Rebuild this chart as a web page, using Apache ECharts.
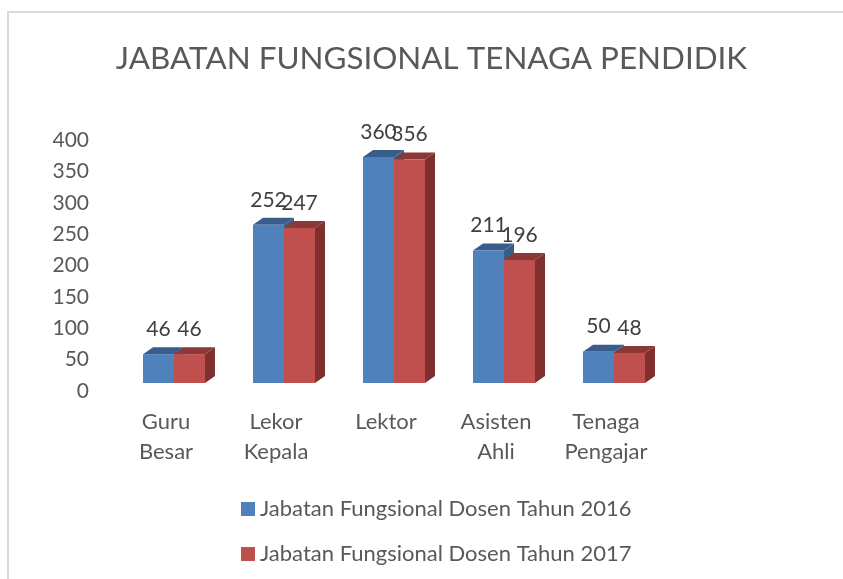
<!DOCTYPE html>
<html>
<head>
	<meta charset="utf-8">
	<title>Jabatan Fungsional Tenaga Pendidik</title>
	<style>body { margin: 0; background: #fff; }</style>
</head>
<body>
<div id="container" style="width: 843px;height: 579px;"></div>
<script src="https://cdn.jsdelivr.net/npm/echarts@6/dist/echarts.min.js"></script>
<script type="text/javascript">
    var categories = ['Guru\nBesar', 'Lekor\nKepala', 'Lektor', 'Asisten\nAhli', 'Tenaga\nPengajar'];
    var values2016 = [46, 252, 360, 211, 50];
    var values2017 = [46, 247, 356, 196, 48];
    var name2016 = 'Jabatan Fungsional Dosen Tahun 2016';
    var name2017 = 'Jabatan Fungsional Dosen Tahun 2017';

    var myChart = echarts.init(document.getElementById('container'));
    var textColor = '#595959';
    var fontName = 'Lato';

    // fake 3D column: front, top and side faces
    function bar3d(front, top, side, barIndex) {
        return function (params, api) {
            var barW = 31, depthX = 10, depthY = 7, floorLift = 8;
            var base = api.coord([api.value(0), 0]);
            var head = api.coord([api.value(0), api.value(1)]);
            var x0 = base[0] + 8 - barW + barIndex * barW;
            var x1 = x0 + barW;
            var y0 = base[1] - floorLift;
            var y1 = head[1] - floorLift;
            return {
                type: 'group',
                children: [
                    { type: 'polygon', shape: { points: [[x1, y0], [x1 + depthX, y0 - depthY], [x1 + depthX, y1 - depthY], [x1, y1]] }, style: { fill: side } },
                    { type: 'polygon', shape: { points: [[x0, y1], [x0 + depthX, y1 - depthY], [x1 + depthX, y1 - depthY], [x1, y1]] }, style: { fill: top } },
                    { type: 'rect', shape: { x: x0, y: y1, width: barW, height: y0 - y1 }, style: { fill: front } },
                    { type: 'text', x: x0 + barW / 2, y: y1 - 25, style: { text: String(api.value(1)), fill: '#404040', font: '21px ' + fontName, textAlign: 'center', textVerticalAlign: 'middle' } }
                ]
            };
        };
    }

    var option = {
        animation: false,
        backgroundColor: '#fff',
        title: {
            text: 'JABATAN FUNGSIONAL TENAGA PENDIDIK',
            left: 426.5,
            top: 38,
            textAlign: 'center',
            textStyle: { color: textColor, fontFamily: fontName, fontWeight: 'normal', fontSize: 31.4 }
        },
        graphic: [
            { type: 'rect', shape: { x: 7, y: 11, width: 836, height: 2 }, style: { fill: '#d9d9d9' } },
            { type: 'rect', shape: { x: 7, y: 11, width: 2, height: 568 }, style: { fill: '#d9d9d9' } }
        ],
        legend: {
            orient: 'vertical',
            left: 236,
            top: 493,
            itemWidth: 14,
            itemHeight: 14,
            itemGap: 23,
            icon: 'rect',
            data: [name2016, name2017],
            textStyle: { color: textColor, fontFamily: fontName, fontSize: 22 }
        },
        grid: { left: 111, right: 182, top: 140, bottom: 188 },
        xAxis: {
            type: 'category',
            data: categories,
            axisLine: { show: false },
            axisTick: { show: false },
            axisLabel: { color: textColor, fontFamily: fontName, fontSize: 22, lineHeight: 30, margin: 16, interval: 0 }
        },
        yAxis: {
            type: 'value',
            min: 0,
            max: 400,
            interval: 50,
            axisLine: { show: false },
            axisTick: { show: false },
            splitLine: { show: false },
            axisLabel: { color: textColor, fontFamily: fontName, fontSize: 21, margin: 22 }
        },
        series: [
            {
                name: name2016,
                type: 'custom',
                itemStyle: { color: '#4f81bd' },
                renderItem: bar3d('#4f81bd', '#385d8a', '#385d8a', 0),
                encode: { x: 0, y: 1 },
                data: values2016.map(function (v, i) { return [i, v]; })
            },
            {
                name: name2017,
                type: 'custom',
                itemStyle: { color: '#c0504d' },
                renderItem: bar3d('#c0504d', '#8c3836', '#7f2f2d', 1),
                encode: { x: 0, y: 1 },
                data: values2017.map(function (v, i) { return [i, v]; })
            }
        ]
    };
    myChart.setOption(option);
</script>
</body>
</html>
